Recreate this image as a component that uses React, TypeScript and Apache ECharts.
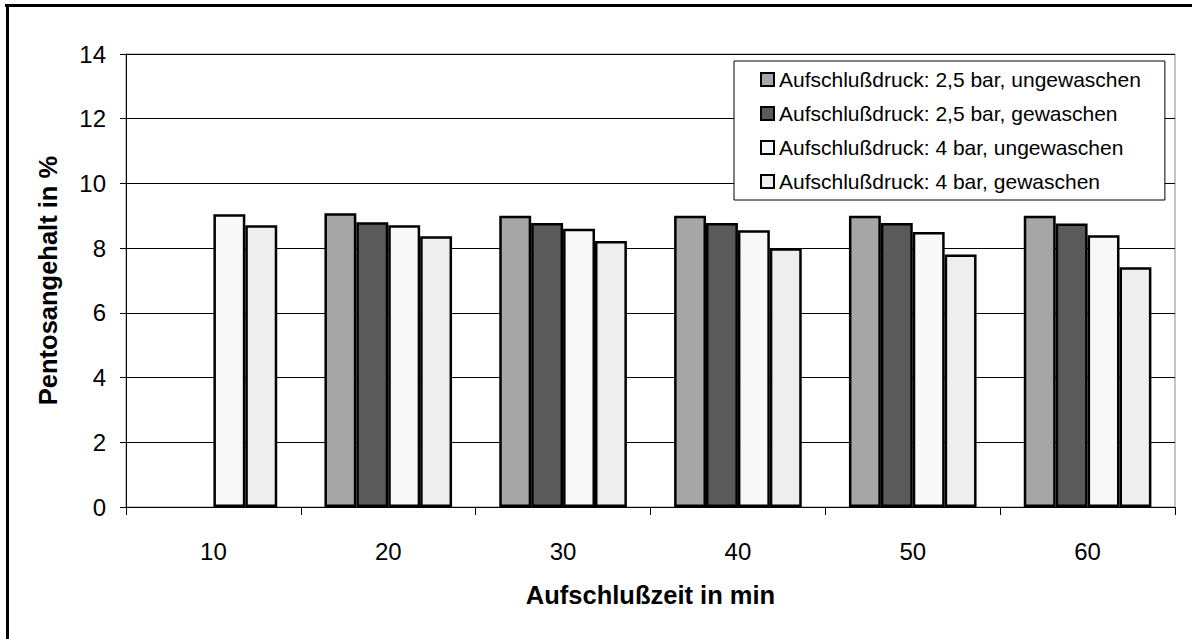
import React, { useEffect, useRef } from "react";
import * as echarts from "echarts";

const categories = ["10", "20", "30", "40", "50", "60"];
const seriesNames = [
  "Aufschlußdruck: 2,5 bar, ungewaschen",
  "Aufschlußdruck: 2,5 bar, gewaschen",
  "Aufschlußdruck: 4 bar, ungewaschen",
  "Aufschlußdruck: 4 bar, gewaschen",
];
const bar25Ungewaschen = [null, 9.08, 9.0, 9.0, 9.0, 9.0];
const bar25Gewaschen = [null, 8.8, 8.78, 8.78, 8.78, 8.76];
const bar4Ungewaschen = [9.05, 8.71, 8.6, 8.55, 8.5, 8.4];
const bar4Gewaschen = [8.71, 8.37, 8.22, 8.0, 7.8, 7.41];
const seriesColors = ["#a6a6a6", "#5a5a5a", "#f8f8f8", "#eeeeee"];
const yTicks = [0, 2, 4, 6, 8, 10, 12, 14];

const FONT = "'Liberation Sans', Arial, sans-serif";

export default function App() {
  const ref = useRef<HTMLDivElement>(null);
  useEffect(() => {
    if (!ref.current) return;
    const chart = echarts.init(ref.current, null, { renderer: "svg" });
    const values = [bar25Ungewaschen, bar25Gewaschen, bar4Ungewaschen, bar4Gewaschen];
    chart.setOption({
      animation: false,
      backgroundColor: "#ffffff",
      textStyle: { fontFamily: FONT, color: "#000" },
      grid: {
        left: 126,
        right: 17,
        top: 54,
        bottom: 132,
        show: true,
        borderColor: "#8a8a8a",
        borderWidth: 1,
        backgroundColor: "transparent",
      },
      legend: {
        orient: "vertical",
        left: 734,
        top: 61,
        padding: [8, 24, 8, 26],
        icon: "rect",
        itemWidth: 13,
        itemHeight: 13,
        itemGap: 13,
        borderColor: "#000",
        borderWidth: 1,
        backgroundColor: "#fff",
        textStyle: { fontFamily: FONT, fontSize: 21, color: "#000", lineHeight: 21 },
        data: seriesNames,
      },
      xAxis: {
        type: "category",
        data: categories,
        boundaryGap: true,
        name: "Aufschlußzeit in min",
        nameLocation: "middle",
        nameGap: 75,
        nameTextStyle: { fontFamily: FONT, fontSize: 25.5, fontWeight: "bold", color: "#000" },
        axisLine: { lineStyle: { color: "#000", width: 1 } },
        axisTick: { show: true, inside: false, length: 8, alignWithLabel: false, lineStyle: { color: "#000" } },
        axisLabel: { fontFamily: FONT, fontSize: 24, color: "#000", margin: 32 },
      },
      yAxis: {
        type: "value",
        min: 0,
        max: 14,
        interval: 2,
        name: "Pentosangehalt in %",
        nameLocation: "middle",
        nameGap: 65,
        nameTextStyle: { fontFamily: FONT, fontSize: 25.5, fontWeight: "bold", color: "#000" },
        axisLine: { show: true, lineStyle: { color: "#000", width: 1 } },
        axisTick: { show: true, inside: false, length: 6, lineStyle: { color: "#000" } },
        axisLabel: {
          fontFamily: FONT,
          fontSize: 24,
          color: "#000",
          margin: 20,
          formatter: (v: number) => (yTicks.includes(v) ? String(v) : ""),
        },
        splitLine: { show: true, lineStyle: { color: "#000", width: 1 } },
      },
      series: seriesNames.map((name, i) => ({
        name,
        type: "bar",
        data: values[i],
        barGap: "0%",
        barCategoryGap: "27%",
        itemStyle: { color: seriesColors[i], borderColor: "#000", borderWidth: 2.5 },
      })),
      graphic: [
        { type: "line", shape: { x1: 5, y1: 5.5, x2: 1192, y2: 5.5 }, style: { stroke: "#000", lineWidth: 3 } },
        { type: "line", shape: { x1: 7.5, y1: 4, x2: 7.5, y2: 639 }, style: { stroke: "#000", lineWidth: 3 } },
      ],
    });
    return () => chart.dispose();
  }, []);
  return (
    <div
      ref={ref}
      style={{ position: "absolute", left: 0, top: 0, width: 1192, height: 639 }}
    />
  );
}
